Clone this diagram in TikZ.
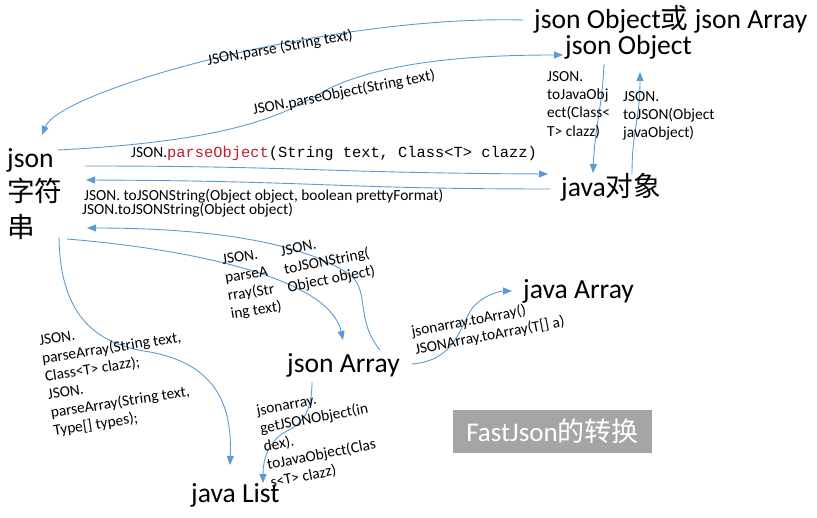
\documentclass[tikz,border=0pt]{standalone}
\usepackage{fontspec}
\setmainfont{Carlito}
\newfontfamily\cjkf{Noto Sans CJK SC}
\newfontfamily\monof{Liberation Mono}
\usetikzlibrary{arrows.meta}
\definecolor{lnblue}{HTML}{5B9BD5}
\definecolor{codered}{RGB}{190,30,45}
\definecolor{boxgray}{HTML}{A5A5A5}
\begin{document}
\begin{tikzpicture}[x=1pt,y=-1pt,
  big/.style={font=\fontsize{27.6}{32}\selectfont, inner sep=0pt},
  lbl/.style={font=\fontsize{15.4}{18.3}\selectfont, inner sep=0pt, align=left},
  arr/.style={draw=lnblue, line width=0.9pt, -{Triangle[length=9pt,width=7pt]}},
]
\useasboundingbox (0,0) rectangle (817,518);

% main nodes
\node[big,anchor=base west] (oa) at (534,29) {json Object{\cjkf 或} json Array};
\node[big,anchor=base west] (jo) at (565,55) {json Object};
\node[big,anchor=base west] (jv) at (561,197) {java{\cjkf 对象}};
\node[big,anchor=base west] (s1) at (7,168) {json};
\node[big,anchor=base west] (s2) at (7,202) {\cjkf 字符};
\node[big,anchor=base west] (s3) at (7,238) {\cjkf 串};
\node[big,anchor=base west] (ja) at (523,299) {java Array};
\node[big,anchor=base west] (jarr) at (287,373) {json Array};
\node[big,anchor=base west] (jl) at (191,503) {java List};
\node[fill=boxgray, minimum width=199pt, minimum height=43pt, inner sep=0pt,
      text=white, font=\fontsize{27}{32}\selectfont] (title) at (552.5,431.5) {FastJson{\cjkf 的转换}};

% connector end points
\coordinate (oaL) at (523,20);
\coordinate (sTop) at (42,135);
\coordinate (sR1) at (58,150);
\coordinate (joL) at (563,55);
\coordinate (sR2) at (85,166);
\coordinate (jvL1) at (548,174);
\coordinate (jvL2) at (550,189);
\coordinate (sR3) at (86,180);
\coordinate (joB1) at (604,64);
\coordinate (jvT1) at (593,173);
\coordinate (jvT2) at (632,174);
\coordinate (joB2) at (640,72);
\coordinate (jarrT) at (380,350);
\coordinate (sR4) at (87,228);
\coordinate (sB1) at (67,239);
\coordinate (jarrT2) at (343,340);
\coordinate (sB2) at (59,237);
\coordinate (jlT1) at (230,465);
\coordinate (jarrB) at (312,382);
\coordinate (jlT2) at (263,483);
\coordinate (jarrR) at (412,364);
\coordinate (jaL) at (512,291);

% connectors
\draw[arr] (oaL) .. controls (330,15) and (60,90) .. (sTop);
\draw[arr] (sR1) .. controls (250,140) and (290,110) .. (330,88) .. controls (390,60) and (480,55) .. (joL);
\draw[arr] (sR2) .. controls (300,166) and (330,173) .. (jvL1);
\draw[arr] (jvL2) .. controls (340,189) and (320,181) .. (sR3);
\draw[arr] (joB1) .. controls (602,110) and (595,125) .. (jvT1);
\draw[arr] (jvT2) .. controls (632,130) and (640,120) .. (joB2);
\draw[arr] (jarrT) .. controls (355,320) and (370,290) .. (350,275) .. controls (300,240) and (200,228) .. (sR4);
\draw[arr] (sB1) .. controls (200,250) and (330,280) .. (jarrT2);
\draw[arr] (sB2) .. controls (60,320) and (100,345) .. (150,352) .. controls (220,365) and (232,410) .. (jlT1);
\draw[arr] (jarrB) .. controls (312,415) and (300,425) .. (285,432) .. controls (268,442) and (263,460) .. (jlT2);
\draw[arr] (jarrR) .. controls (460,360) and (460,320) .. (475,305) .. controls (485,295) and (500,291) .. (jaL);

% labels
\node[lbl, rotate=10] (l1) at (280,48) {JSON.parse (String text)};
\node[lbl, rotate=11] (l2) at (344,93) {JSON.parseObject(String text)};
\node[lbl, anchor=base west] (l3) at (131,158) {JSON.{\monof\color{codered}parseObject}{\monof (String text, Class<T> clazz)}};
\node[lbl, anchor=base west] (l4a) at (84,201) {JSON. toJSONString(Object object, boolean prettyFormat)};
\node[lbl, anchor=base west] (l4b) at (82,215) {JSON.toJSONString(Object object)};
\node[lbl, anchor=north west] (l5) at (547,71) {JSON.\\toJavaObj\\ect(Class<\\T> clazz)};
\node[lbl, anchor=north west] (l6) at (623,91) {JSON.\\toJSON(Object\\javaObject)};
\node[lbl, rotate=11] (l7) at (328,262) {JSON.\\toJSONString(\\Object object)};
\node[lbl, rotate=9] (l8) at (252,284) {JSON.\\parseA\\rray(Str\\ing text)};
\node[lbl, rotate=9] (l9) at (116,376) {JSON.\\parseArray(String text,\\Class<T> clazz);\\JSON.\\parseArray(String text,\\Type[] types);};
\node[lbl, rotate=11] (l10) at (318,437) {jsonarray.\\getJSONObject(in\\dex).\\toJavaObject(Clas\\s<T> clazz)};
\node[lbl, rotate=11] (l11) at (488,327) {jsonarray.toArray()\\JSONArray.toArray(T[] a)};
\end{tikzpicture}
\end{document}
